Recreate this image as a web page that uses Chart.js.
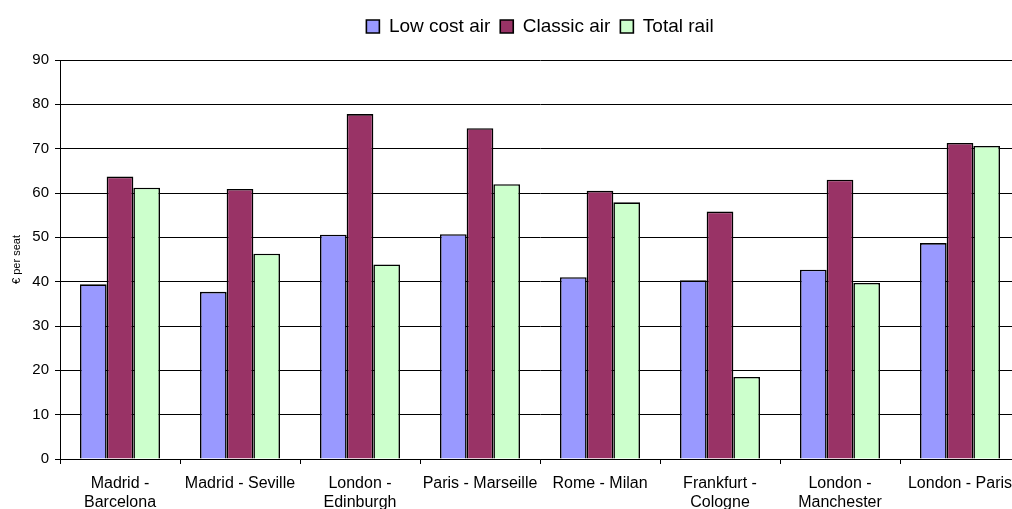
<!DOCTYPE html>
<html>
<head>
<meta charset="utf-8">
<script src="https://cdn.jsdelivr.net/npm/chart.js@4"></script>
<style>
  html, body { margin: 0; padding: 0; background: #fff; overflow: hidden; }
  #wrap { width: 1012px; height: 509px; overflow: hidden; position: relative; }
  canvas { position: absolute; left: 0; top: 0; }
</style>
</head>
<body>
<div id="wrap"><canvas id="chart" width="1080" height="520"></canvas></div>
<script>
const routes = [
  ["Madrid -", "Barcelona"],
  "Madrid - Seville",
  ["London -", "Edinburgh"],
  "Paris - Marseille",
  "Rome - Milan",
  ["Frankfurt -", "Cologne"],
  ["London -", "Manchester"],
  "London - Paris"
]
const lowCostAir = [39.4, 37.7, 50.6, 50.7, 41.0, 40.3, 42.7, 48.7]
const classicAir = [63.7, 60.9, 77.8, 74.6, 60.5, 55.8, 63.0, 71.3]
const totalRail = [61.2, 46.3, 43.9, 62.0, 57.9, 18.5, 39.7, 70.6]
const yTicks = [0, 10, 20, 30, 40, 50, 60, 70, 80, 90]

const font = "'Liberation Sans', Arial, sans-serif"
Chart.defaults.font.family = font
Chart.defaults.color = '#000'

// fixed legend height, and centre it on the whole canvas rather than the padded box
const legendBox = {
  id: 'legendBox',
  beforeInit(chart) {
    const fit = chart.legend.fit
    chart.legend.fit = function () {
      fit.call(this)
      this.height = 53
    }
  },
  afterLayout(chart) {
    chart.legend.right += 60
    chart.legend.width += 60
  }
}

const bar = (label, data, color) => ({
  label,
  data,
  backgroundColor: color,
  borderColor: '#000',
  borderWidth: 1.6,
  categoryPercentage: 0.667,
  barPercentage: 1
})

new Chart(document.getElementById('chart'), {
  type: 'bar',
  data: {
    labels: routes,
    datasets: [
      bar('Low cost air', lowCostAir, '#9999ff'),
      bar('Classic air', classicAir, '#993366'),
      bar('Total rail', totalRail, '#ccffcc')
    ]
  },
  plugins: [legendBox],
  options: {
    responsive: false,
    animation: false,
    layout: { padding: { left: 0, right: 60, top: 7, bottom: 0 } },
    plugins: {
      tooltip: { enabled: false },
      legend: {
        position: 'top',
        labels: {
          boxWidth: 13,
          boxHeight: 13,
          padding: 10,
          font: { size: 19 },
          color: '#000'
        }
      }
    },
    scales: {
      x: {
        afterFit(axis) { axis.height = 61 },
        grid: {
          offset: true,
          drawOnChartArea: false,
          drawTicks: true,
          tickLength: 5,
          color: '#000'
        },
        border: { color: '#000', width: 1 },
        ticks: {
          maxRotation: 0,
          autoSkip: false,
          padding: 10,
          font: { size: 16, lineHeight: 1.2 },
          color: '#000'
        }
      },
      y: {
        min: 0,
        max: 90,
        afterFit(axis) { axis.width = 60 },
        afterBuildTicks(axis) { axis.ticks = yTicks.map(v => ({ value: v })) },
        grid: {
          color: '#000',
          tickLength: 5,
          drawTicks: true
        },
        border: { color: '#000', width: 1 },
        ticks: {
          padding: 6,
          font: { size: 15 },
          color: '#000'
        },
        title: {
          display: true,
          text: '€ per seat',
          font: { size: 11 },
          padding: { top: 10, bottom: 0 },
          color: '#000'
        }
      }
    }
  }
})
</script>
</body>
</html>
